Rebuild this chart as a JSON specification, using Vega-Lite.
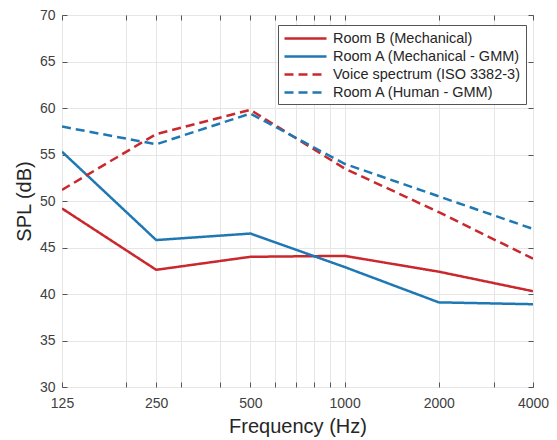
{
  "$schema": "https://vega.github.io/schema/vega-lite/v6.json",
  "width": 471,
  "height": 372,
  "autosize": {"type": "none"},
  "padding": {"left": 62, "top": 15, "right": 24, "bottom": 53},
  "config": {
    "font": "Liberation Sans",
    "view": {"stroke": "#555555", "strokeWidth": 1},
    "axis": {
      "labelFont": "Liberation Sans",
      "titleFont": "Liberation Sans",
      "labelColor": "#404040",
      "titleColor": "#262626",
      "domain": false,
      "tickColor": "#555555",
      "gridColor": "#e6e6e6",
      "gridWidth": 1,
      "labelFontSize": 14,
      "titleFontSize": 20,
      "titleFontWeight": "normal",
      "tickSize": -5
    }
  },
  "data": {
    "values": [
      {"freq": 125, "spl": 49.2, "series": "Room B (Mechanical)"},
      {"freq": 250, "spl": 42.6, "series": "Room B (Mechanical)"},
      {"freq": 500, "spl": 44.0, "series": "Room B (Mechanical)"},
      {"freq": 1000, "spl": 44.1, "series": "Room B (Mechanical)"},
      {"freq": 2000, "spl": 42.4, "series": "Room B (Mechanical)"},
      {"freq": 4000, "spl": 40.3, "series": "Room B (Mechanical)"},
      {"freq": 125, "spl": 55.3, "series": "Room A (Mechanical - GMM)"},
      {"freq": 250, "spl": 45.8, "series": "Room A (Mechanical - GMM)"},
      {"freq": 500, "spl": 46.5, "series": "Room A (Mechanical - GMM)"},
      {"freq": 1000, "spl": 42.9, "series": "Room A (Mechanical - GMM)"},
      {"freq": 2000, "spl": 39.1, "series": "Room A (Mechanical - GMM)"},
      {"freq": 4000, "spl": 38.9, "series": "Room A (Mechanical - GMM)"},
      {"freq": 125, "spl": 51.2, "series": "Voice spectrum (ISO 3382-3)"},
      {"freq": 250, "spl": 57.2, "series": "Voice spectrum (ISO 3382-3)"},
      {"freq": 500, "spl": 59.8, "series": "Voice spectrum (ISO 3382-3)"},
      {"freq": 1000, "spl": 53.5, "series": "Voice spectrum (ISO 3382-3)"},
      {"freq": 2000, "spl": 48.8, "series": "Voice spectrum (ISO 3382-3)"},
      {"freq": 4000, "spl": 43.8, "series": "Voice spectrum (ISO 3382-3)"},
      {"freq": 125, "spl": 58.0, "series": "Room A (Human - GMM)"},
      {"freq": 250, "spl": 56.1, "series": "Room A (Human - GMM)"},
      {"freq": 500, "spl": 59.4, "series": "Room A (Human - GMM)"},
      {"freq": 1000, "spl": 54.0, "series": "Room A (Human - GMM)"},
      {"freq": 2000, "spl": 50.5, "series": "Room A (Human - GMM)"},
      {"freq": 4000, "spl": 47.0, "series": "Room A (Human - GMM)"}
    ]
  },
  "layer": [
    {
      "mark": {"type": "line", "strokeWidth": 2.5, "clip": true},
      "encoding": {
        "x": {
          "field": "freq",
          "type": "quantitative",
          "scale": {"type": "log", "domain": [125, 4000], "nice": false},
          "axis": {
            "orient": "bottom",
            "title": "Frequency (Hz)",
            "values": [125, 200, 250, 300, 400, 500, 600, 700, 800, 900, 1000, 2000, 3000, 4000],
            "labelExpr": "indexof([125,250,500,1000,2000,4000], datum.value) >= 0 ? format(datum.value, 'd') : ''",
            "labelFlush": false,
            "labelPadding": 14,
            "titlePadding": 6,
            "grid": true
          }
        },
        "y": {
          "field": "spl",
          "type": "quantitative",
          "scale": {"domain": [30, 70], "nice": false, "zero": false},
          "axis": {
            "orient": "left",
            "title": "SPL (dB)",
            "values": [30, 35, 40, 45, 50, 55, 60, 65, 70],
            "labelFlush": false,
            "labelPadding": 12,
            "titlePadding": 5,
            "grid": true
          }
        },
        "color": {
          "field": "series",
          "type": "nominal",
          "scale": {
            "domain": ["Room B (Mechanical)", "Room A (Mechanical - GMM)", "Voice spectrum (ISO 3382-3)", "Room A (Human - GMM)"],
            "range": ["#C9282D", "#1F78B4", "#C9282D", "#1F78B4"]
          },
          "legend": {
            "title": null,
            "orient": "none",
            "legendX": 216,
            "legendY": 10,
            "symbolType": "M-1,0H5",
            "symbolSize": 196,
            "symbolStrokeWidth": 2.5,
            "labelFontSize": 14.5,
            "labelLimit": 400,
            "labelColor": "#262626",
            "strokeColor": "#555555",
            "fillColor": "white",
            "padding": 5,
            "rowPadding": 3,
            "labelOffset": 33
          }
        },
        "strokeDash": {
          "field": "series",
          "type": "nominal",
          "scale": {
            "domain": ["Room B (Mechanical)", "Room A (Mechanical - GMM)", "Voice spectrum (ISO 3382-3)", "Room A (Human - GMM)"],
            "range": [[1, 0], [1, 0], [9, 5], [9, 5]]
          },
          "legend": {
            "title": null,
            "orient": "none",
            "legendX": 216,
            "legendY": 10,
            "symbolType": "M-1,0H5",
            "symbolSize": 196,
            "symbolStrokeWidth": 2.5,
            "labelFontSize": 14.5,
            "labelLimit": 400,
            "labelColor": "#262626",
            "strokeColor": "#555555",
            "fillColor": "white",
            "padding": 5,
            "rowPadding": 3,
            "labelOffset": 33
          }
        }
      }
    },
    {
      "mark": {"type": "point", "opacity": 0},
      "encoding": {
        "x": {
          "field": "freq",
          "type": "quantitative",
          "axis": {
            "orient": "top",
            "title": null,
            "labels": false,
            "grid": false,
            "values": [125, 200, 250, 300, 400, 500, 600, 700, 800, 900, 1000, 2000, 3000, 4000]
          }
        },
        "y": {
          "field": "spl",
          "type": "quantitative",
          "axis": {
            "orient": "right",
            "title": null,
            "labels": false,
            "grid": false,
            "values": [30, 35, 40, 45, 50, 55, 60, 65, 70]
          }
        }
      }
    }
  ]
}
